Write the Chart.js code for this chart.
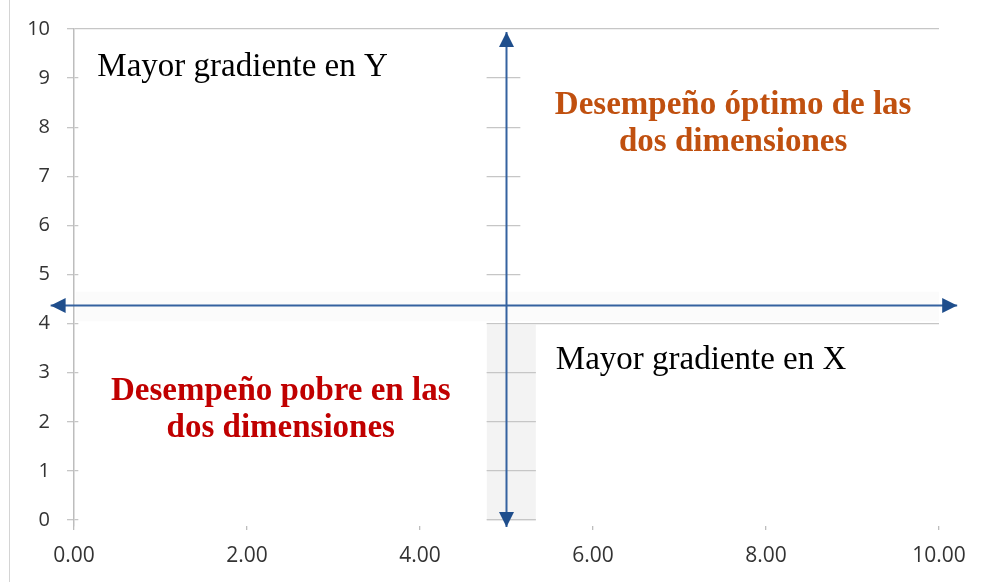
<!DOCTYPE html>
<html>
<head>
<meta charset="utf-8">
<script src="https://cdn.jsdelivr.net/npm/chart.js@4.4.1/dist/chart.umd.min.js"></script>
<style>
  html, body { margin: 0; padding: 0; background: #fff; }
  #wrap { position: relative; width: 989px; height: 582px; }
  #frame { position: absolute; left: 9px; top: 0; width: 1px; height: 582px; background: #d4d4d4; }
</style>
</head>
<body>
<div id="wrap">
  <canvas id="quad" width="989" height="582"></canvas>
  <div id="frame"></div>
</div>
<script>
// ---------- datos ----------
const xTicks = [0, 2, 4, 6, 8, 10];
const yTicks = [0, 1, 2, 3, 4, 5, 6, 7, 8, 9, 10];

// eje horizontal (flechas a ambos lados) y eje vertical; los extremos son las puntas
const hArrowX = [-0.27, 10.21];
const hArrowY = [4.37, 4.37];
const vArrowX = [5, 5];
const vArrowY = [-0.14, 9.94];

// textos de los cuadrantes
const quadTexts = [
  ['Mayor gradiente en Y'],
  ['Desempeño óptimo de las', 'dos dimensiones'],
  ['Mayor gradiente en X'],
  ['Desempeño pobre en las', 'dos dimensiones'],
];

// ---------- estilo / posiciones ----------
const lineColor = '#3562a0';
const headColor = '#1f4e8c';
const headLen = 15, headHalf = 7.5;
const serif = '"Liberation Serif", "DejaVu Serif", serif';
const quadStyle = [
  { x: 0.27, y: 9.04, align: 'left',   color: '#000000', bold: false },
  { x: 7.62, y: 8.27, align: 'center', color: '#c0500f', bold: true },
  { x: 5.57, y: 3.07, align: 'left',   color: '#000000', bold: false },
  { x: 2.39, y: 2.44, align: 'center', color: '#c00000', bold: true },
];
const lineGap = 37; // px entre renglones

// zonas blancas (tapan la cuadrícula) y sombreados suaves, en unidades de datos
const masks = [
  [0.05, -0.12, 4.77, 9.95],
  [5.16, 4.5, 10.01, 9.95],
  [5.34, -0.12, 10.01, 3.95],
];
const shadesUnder = [[4.77, -0.02, 5.34, 3.98]];
const shadesOver = [[0.02, 4.05, 10.0, 4.65]];

function fillBoxes(chart, boxes, color) {
  const { ctx, scales: { x, y } } = chart;
  ctx.save();
  ctx.fillStyle = color;
  boxes.forEach(b => {
    const x1 = x.getPixelForValue(b[0]), x2 = x.getPixelForValue(b[2]);
    const y1 = y.getPixelForValue(b[3]), y2 = y.getPixelForValue(b[1]);
    ctx.fillRect(x1, y1, x2 - x1, y2 - y1);
  });
  ctx.restore();
}

// punta de flecha en p, apuntando desde q hacia p
function arrowHead(ctx, p, q) {
  const dx = p.x - q.x, dy = p.y - q.y;
  const len = Math.hypot(dx, dy) || 1;
  const ux = dx / len, uy = dy / len;
  const bx = p.x - ux * headLen, by = p.y - uy * headLen;
  ctx.beginPath();
  ctx.moveTo(p.x, p.y);
  ctx.lineTo(bx - uy * headHalf, by + ux * headHalf);
  ctx.lineTo(bx + uy * headHalf, by - ux * headHalf);
  ctx.closePath();
  ctx.fill();
}

const quadrantPlugin = {
  id: 'quadrants',
  beforeDraw(chart) {
    fillBoxes(chart, shadesUnder, '#f3f3f3');
  },
  beforeDatasetsDraw(chart) {
    fillBoxes(chart, masks, '#ffffff');
    fillBoxes(chart, shadesOver, '#fbfbfb');
  },
  afterDatasetsDraw(chart) {
    const { ctx } = chart;
    ctx.save();
    ctx.fillStyle = headColor;
    chart.data.datasets.forEach((ds, i) => {
      const pts = chart.getDatasetMeta(i).data;
      arrowHead(ctx, pts[0], pts[1]);
      arrowHead(ctx, pts[1], pts[0]);
    });
    ctx.restore();
  },
  afterDraw(chart) {
    const { ctx, scales: { x, y } } = chart;
    ctx.save();
    ctx.textBaseline = 'alphabetic';
    quadTexts.forEach((lines, i) => {
      const s = quadStyle[i];
      ctx.font = (s.bold ? 'bold ' : '') + '33px ' + serif;
      ctx.fillStyle = s.color;
      ctx.textAlign = s.align;
      const px = x.getPixelForValue(s.x);
      const py = y.getPixelForValue(s.y);
      lines.forEach((t, k) => ctx.fillText(t, px, py + k * lineGap));
    });
    ctx.restore();
  }
};

function arrowSet(xs, ys) {
  return {
    data: xs.map((v, i) => ({ x: v, y: ys[i] })),
    showLine: true,
    borderColor: lineColor,
    borderWidth: 2,
    borderCapStyle: 'butt',
    pointRadius: 0,
    pointHoverRadius: 0,
    clip: false,
  };
}

const tickFont = { family: '"Open Sans", "Liberation Sans", sans-serif' };

new Chart(document.getElementById('quad').getContext('2d'), {
  type: 'scatter',
  data: {
    datasets: [
      arrowSet(hArrowX, hArrowY),
      arrowSet(vArrowX, vArrowY),
    ]
  },
  options: {
    responsive: false,
    animation: false,
    devicePixelRatio: 1,
    layout: { padding: { top: 28, right: 50, left: 0, bottom: 0 } },
    plugins: { legend: { display: false }, tooltip: { enabled: false } },
    scales: {
      x: {
        type: 'linear',
        min: 0, max: 10,
        afterBuildTicks: s => { s.ticks = xTicks.map(v => ({ value: v })); },
        afterFit: s => { s.height = 56; },
        grid: { drawOnChartArea: false, tickLength: 4, color: '#bdbdbd', lineWidth: 1.3 },
        border: { display: false },
        ticks: {
          color: '#333333', padding: 13, maxRotation: 0,
          font: { ...tickFont, size: 21 },
          callback: v => Number(v).toFixed(2)
        }
      },
      y: {
        type: 'linear',
        min: -0.12, max: 10,
        afterBuildTicks: s => { s.ticks = yTicks.map(v => ({ value: v })); },
        afterFit: s => { s.width = 74; },
        grid: { color: '#c6c6c6', lineWidth: 1.3, tickLength: 7 },
        border: { color: '#bdbdbd', width: 1.5 },
        ticks: {
          color: '#333333', padding: 17,
          font: { ...tickFont, size: 20 },
          callback: v => String(v)
        }
      }
    }
  },
  plugins: [quadrantPlugin]
});
</script>
</body>
</html>
